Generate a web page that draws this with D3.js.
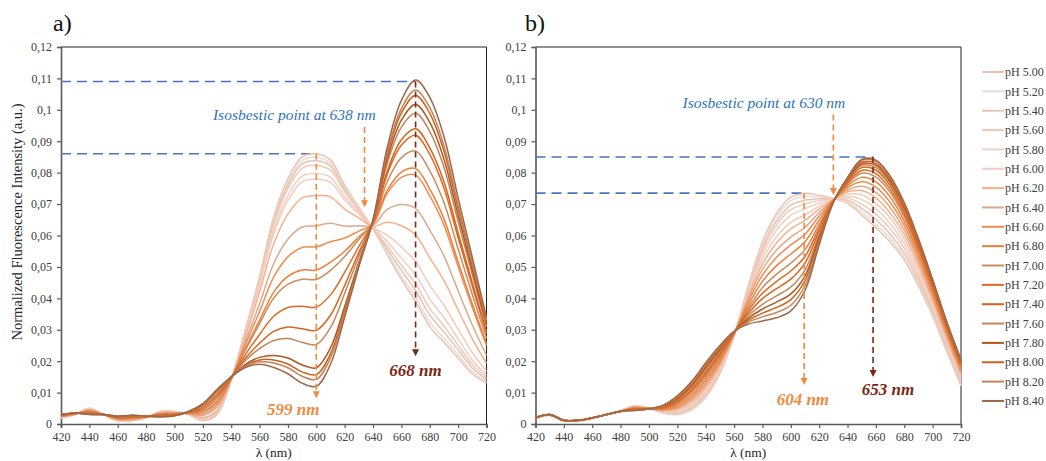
<!DOCTYPE html>
<html><head><meta charset="utf-8">
<script src="https://cdn.jsdelivr.net/npm/d3@7/dist/d3.min.js"></script>
<style>body{margin:0;background:#fff}svg{display:block}</style>
</head><body>
<svg id="c" width="1046" height="461"></svg>
<script>
// ---------- DATA ----------
const wavelengths = [420,430,440,450,460,470,480,490,500,510,520,530,540,550,560,570,580,590,600,610,620,630,640,650,660,670,680,690,700,710,720];
const phLabels = ["pH 5.00","pH 5.20","pH 5.40","pH 5.60","pH 5.80","pH 6.00","pH 6.20","pH 6.40","pH 6.60","pH 6.80","pH 7.00","pH 7.20","pH 7.40","pH 7.60","pH 7.80","pH 8.00","pH 8.20","pH 8.40"];
const seriesColors = ["#eec3ad","#e6dcd8","#e5c4b6","#f6c7b3","#e8d1c8","#f6cbb8","#f7b08a","#dca98b","#f08c52","#ee7d36","#c98c64","#e2691f","#d9621c","#c4855a","#b0561f","#c9621f","#c4845a","#9e6648"];
const yTickValues = [0,0.01,0.02,0.03,0.04,0.05,0.06,0.07,0.08,0.09,0.10,0.11,0.12];
const yTickLabels = ["0","0,01","0,02","0,03","0,04","0,05","0,06","0,07","0,08","0,09","0,1","0,11","0,12"];
const xTickValues = [420,440,460,480,500,520,540,560,580,600,620,640,660,680,700,720];

const panelASeries = [
[.002,.003,.005,.003,.001,.001,.002,.004,.004,.003,.001,.003,.014,.030,.047,.066,.078,.085,.086,.084,.076,.069,.062,.054,.046,.039,.031,.026,.021,.016,.013],
[.002,.003,.005,.003,.001,.001,.002,.004,.004,.003,.0011,.0031,.014,.0298,.0466,.0653,.0771,.0839,.0849,.0830,.0754,.0687,.0621,.0547,.0471,.0404,.0325,.0273,.0220,.0167,.0134],
[.002,.003,.0049,.003,.001,.0011,.002,.0039,.004,.003,.0012,.0032,.014,.0296,.0462,.0646,.0761,.0828,.0838,.0821,.0747,.0684,.0622,.0557,.0489,.0425,.0347,.0293,.0236,.0179,.0141],
[.0021,.003,.0049,.003,.0011,.0011,.002,.0039,.0039,.0031,.0013,.0034,.0141,.0294,.0456,.0636,.0749,.0814,.0823,.0808,.0739,.0681,.0622,.0567,.0506,.0446,.0368,.0312,.0251,.0190,.0147],
[.0021,.003,.0048,.003,.0011,.0012,.002,.0039,.0039,.0031,.0015,.0037,.0141,.0290,.0446,.0619,.0727,.0789,.0797,.0785,.0724,.0674,.0624,.0581,.0528,.0475,.0398,.0339,.0271,.0204,.0155],
[.0021,.0031,.0048,.003,.0012,.0012,.0021,.0038,.0038,.0031,.0016,.0039,.0141,.0287,.0439,.0607,.0712,.0771,.0779,.0769,.0714,.0669,.0625,.0601,.0563,.0517,.0441,.0378,.0302,.0227,.0168],
[.0022,.0031,.0046,.003,.0013,.0013,.0021,.0037,.0037,.0032,.0020,.0044,.0142,.0278,.0420,.0574,.0668,.0720,.0727,.0723,.0684,.0656,.0629,.0642,.0631,.0602,.0529,.0457,.0363,.0271,.0193],
[.0023,.0032,.0044,.003,.0015,.0016,.0022,.0035,.0036,.0033,.0027,.0055,.0143,.0263,.0383,.0511,.0588,.0627,.0631,.0639,.0630,.0631,.0633,.0683,.0699,.0686,.0617,.0535,.0424,.0315,.0218],
[.0024,.0032,.0042,.003,.0016,.0017,.0022,.0033,.0034,.0034,.0032,.0062,.0144,.0252,.0358,.0468,.0532,.0562,.0564,.0580,.0592,.0614,.0637,.0734,.0785,.0792,.0726,.0633,.0501,.0371,.0250],
[.0025,.0033,.004,.003,.0018,.0019,.0023,.0032,.0033,.0035,.0038,.0070,.0145,.0240,.0330,.0420,.0470,.0490,.0490,.0515,.0550,.0595,.0638,.0744,.0802,.0813,.0748,.0653,.0516,.0382,.0256],
[.0025,.0033,.0039,.003,.0018,.002,.0023,.0031,.0032,.0035,.0040,.0073,.0145,.0235,.0319,.0401,.0445,.0461,.0460,.0489,.0533,.0587,.0640,.0771,.0848,.0869,.0806,.0705,.0557,.0412,.0273],
[.0027,.0033,.0037,.003,.002,.0022,.0023,.0029,.0031,.0037,.0046,.0083,.0147,.0221,.0285,.0343,.0371,.0375,.0372,.0411,.0483,.0565,.0643,.0795,.0888,.0919,.0858,.0751,.0593,.0438,.0288],
[.0028,.0034,.0035,.003,.0021,.0024,.0024,.0027,.0029,.0038,.0052,.0091,.0148,.0209,.0257,.0295,.0309,.0303,.0298,.0346,.0441,.0546,.0643,.0805,.0905,.0940,.0879,.0771,.0608,.0449,.0294],
[.0028,.0034,.0034,.003,.0022,.0025,.0024,.0026,.0029,.0038,.0055,.0096,.0148,.0202,.0240,.0266,.0272,.0260,.0253,.0307,.0416,.0534,.0646,.0829,.0945,.0989,.0931,.0817,.0644,.0475,.0309],
[.0029,.0035,.0032,.003,.0024,.0027,.0025,.0024,.0027,.0039,.0061,.0104,.0149,.0190,.0212,.0218,.0210,.0188,.0179,.0242,.0374,.0515,.0647,.0843,.0967,.1017,.0960,.0843,.0664,.0489,.0317],
[.003,.0035,.0031,.003,.0024,.0027,.0025,.0024,.0027,.0040,.0062,.0106,.015,.0186,.0204,.0204,.0191,.0166,.0157,.0223,.0361,.0510,.0648,.0856,.0990,.1046,.0989,.0869,.0684,.0504,.0325],
[.003,.0035,.0031,.003,.0025,.0027,.0025,.0023,.0026,.004,.0063,.0108,.015,.0184,.0198,.0194,.0179,.0152,.0142,.0210,.0353,.0506,.0649,.0865,.1004,.1063,.1007,.0886,.0697,.0513,.0331],
[.003,.0035,.003,.003,.0025,.0028,.0025,.0023,.0026,.004,.0065,.011,.015,.018,.019,.018,.016,.013,.012,.019,.034,.050,.065,.088,.103,.1095,.104,.0915,.072,.053,.034]
];

const panelBSeries = [
[.0018,.0028,.0010,.0010,.0018,.0030,.0042,.0058,.0050,.0035,.0030,.0045,.0085,.0160,.0280,.0440,.0580,.0670,.0722,.0734,.0728,.0718,.0702,.0665,.0625,.0580,.0522,.0440,.0342,.0230,.0120],
[.0018,.0028,.0010,.0010,.0018,.0030,.0042,.0058,.0050,.0036,.0032,.0048,.0088,.0163,.0280,.0436,.0572,.0660,.0711,.0725,.0723,.0718,.0706,.0674,.0636,.0591,.0531,.0448,.0348,.0235,.0124],
[.0018,.0028,.0010,.0010,.0018,.0030,.0042,.0057,.0050,.0037,.0034,.0051,.0093,.0166,.0281,.0431,.0562,.0647,.0697,.0712,.0717,.0717,.0712,.0686,.0651,.0605,.0544,.0458,.0356,.0241,.0130],
[.0018,.0028,.0010,.0010,.0018,.0030,.0042,.0056,.0050,.0038,.0037,.0055,.0097,.0170,.0282,.0427,.0552,.0634,.0682,.0700,.0711,.0717,.0719,.0700,.0668,.0622,.0559,.0470,.0366,.0249,.0137],
[.0018,.0028,.0010,.0010,.0018,.0030,.0042,.0056,.0050,.0039,.0040,.0059,.0103,.0174,.0282,.0420,.0540,.0617,.0664,.0685,.0703,.0716,.0725,.0715,.0685,.0639,.0573,.0482,.0375,.0257,.0144],
[.0018,.0028,.0010,.0010,.0018,.0030,.0042,.0055,.0050,.0041,.0043,.0065,.0109,.0180,.0283,.0413,.0525,.0597,.0642,.0666,.0693,.0715,.0732,.0729,.0702,.0656,.0588,.0494,.0385,.0264,.0151],
[.0019,.0029,.0011,.0011,.0019,.0030,.0041,.0054,.0049,.0042,.0047,.0070,.0116,.0185,.0284,.0406,.0509,.0577,.0621,.0648,.0684,.0714,.0739,.0743,.0720,.0672,.0603,.0506,.0394,.0272,.0157],
[.0019,.0029,.0011,.0011,.0019,.0030,.0041,.0053,.0049,.0044,.0051,.0077,.0124,.0192,.0285,.0397,.0492,.0554,.0595,.0626,.0673,.0713,.0745,.0757,.0737,.0689,.0617,.0518,.0403,.0279,.0164],
[.0019,.0029,.0011,.0011,.0019,.0030,.0041,.0052,.0049,.0046,.0055,.0083,.0131,.0198,.0286,.0389,.0474,.0531,.0570,.0604,.0662,.0713,.0752,.0771,.0754,.0706,.0632,.0530,.0413,.0287,.0171],
[.0019,.0029,.0011,.0011,.0019,.0030,.0041,.0051,.0049,.0048,.0060,.0090,.0140,.0205,.0288,.0379,.0454,.0504,.0541,.0580,.0649,.0712,.0758,.0785,.0771,.0723,.0646,.0542,.0422,.0295,.0178],
[.0019,.0029,.0011,.0011,.0019,.0030,.0041,.0049,.0049,.0050,.0065,.0097,.0149,.0212,.0289,.0369,.0434,.0477,.0512,.0555,.0636,.0710,.0764,.0798,.0786,.0738,.0659,.0553,.0431,.0301,.0184],
[.0019,.0029,.0011,.0011,.0019,.0030,.0041,.0048,.0049,.0051,.0069,.0104,.0157,.0219,.0290,.0361,.0416,.0454,.0487,.0533,.0625,.0710,.0768,.0807,.0797,.0748,.0668,.0560,.0436,.0306,.0188],
[.0019,.0029,.0011,.0011,.0019,.0030,.0041,.0047,.0049,.0053,.0073,.0110,.0164,.0225,.0291,.0352,.0399,.0431,.0461,.0512,.0614,.0709,.0773,.0816,.0808,.0759,.0678,.0568,.0442,.0311,.0192],
[.0020,.0030,.0012,.0012,.0020,.0030,.0040,.0046,.0048,.0055,.0077,.0116,.0172,.0231,.0292,.0344,.0381,.0408,.0436,.0490,.0603,.0708,.0776,.0823,.0816,.0767,.0685,.0574,.0447,.0315,.0196],
[.0020,.0030,.0012,.0012,.0020,.0030,.0040,.0045,.0048,.0056,.0081,.0122,.0179,.0237,.0293,.0336,.0366,.0388,.0414,.0471,.0594,.0707,.0778,.0828,.0823,.0773,.0690,.0578,.0451,.0317,.0198],
[.0020,.0030,.0012,.0012,.0020,.0030,.0040,.0045,.0048,.0058,.0084,.0126,.0184,.0241,.0294,.0330,.0353,.0371,.0396,.0456,.0586,.0706,.0781,.0833,.0829,.0780,.0696,.0583,.0454,.0320,.0201],
[.0020,.0030,.0012,.0012,.0020,.0030,.0040,.0044,.0048,.0059,.0087,.0131,.0190,.0246,.0294,.0324,.0341,.0355,.0378,.0440,.0578,.0706,.0783,.0839,.0836,.0786,.0701,.0587,.0458,.0323,.0203],
[.0020,.0030,.0012,.0012,.0020,.0030,.0040,.0043,.0048,.0060,.0090,.0135,.0195,.0250,.0295,.0318,.0328,.0338,.0360,.0425,.0570,.0705,.0785,.0842,.0840,.0790,.0705,.0590,.0460,.0325,.0205]
];

// annotation values (wavelength, intensity)
const panelAPeaks = [{wl:670, v:0.109, to:0.0216, label:"668 nm", kind:"dark"}, {wl:600, v:0.086, to:0.0082, label:"599 nm", kind:"orange"}];
const panelBPeaks = [{wl:658, v:0.085, to:0.015, label:"653 nm", kind:"dark"}, {wl:609.4, v:0.0735, to:0.0124, label:"604 nm", kind:"orange"}];
const panelAIso = {wl:634, from:0.0945, to:0.069, text:"Isosbestic point at 638 nm", textWl:584.5, textV:0.0968};
const panelBIso = {wl:630, from:0.0985, to:0.0729, text:"Isosbestic point at 630 nm", textWl:581, textV:0.1005};
const panelALabelPos = [{wl:670, v:0.0153}, {wl:583.8, v:0.0029}];
const panelBLabelPos = [{wl:668.5, v:0.0092}, {wl:608.5, v:0.006}];

// ---------- DRAW ----------
const svg = d3.select("#c");
const FONT = "'Liberation Serif','DejaVu Serif',serif";
const BLUE = "#4a74c2", ORANGE = "#f08a3c", DARK = "#7b2815", ISO = "#2e75b6";

function arrowHead(g, xp, yp, color) {
  g.append("path").attr("d", `M${xp-3.5},${yp-7}L${xp+3.5},${yp-7}L${xp},${yp}Z`).attr("fill", color);
}

function drawPanel(x0, x1, series, peaks, labelPos, iso, letter, letterX) {
  const x = d3.scaleLinear().domain([420,720]).range([x0, x1]);
  const y = d3.scaleLinear().domain([0,0.12]).range([424,47]);
  const g = svg.append("g");

  g.append("line").attr("x1", x0).attr("x2", x1).attr("y1", y(0.12)).attr("y2", y(0.12)).attr("stroke", "#222").attr("stroke-width", 1);
  g.append("line").attr("x1", x1).attr("x2", x1).attr("y1", y(0.12)).attr("y2", y(0)).attr("stroke", "#222").attr("stroke-width", 1);

  const ya = g.append("g").attr("transform", `translate(${x0},0)`)
    .call(d3.axisLeft(y).tickValues(yTickValues).tickFormat((d,i) => yTickLabels[i]).tickSize(4).tickPadding(5));
  const xa = g.append("g").attr("transform", `translate(0,${y(0)})`)
    .call(d3.axisBottom(x).tickValues(xTickValues).tickFormat(d3.format("d")).tickSize(4).tickPadding(4));
  [ya, xa].forEach(a => {
    a.select(".domain").attr("stroke", "#595959").attr("stroke-width", 1.6);
    a.selectAll(".tick line").attr("stroke", "#595959").attr("stroke-width", 1.2);
    a.selectAll(".tick text").attr("font-family", FONT).attr("font-size", 12).attr("fill", "#404040");
  });

  peaks.forEach(p => {
    g.append("line").attr("x1", x0).attr("x2", x(p.wl)).attr("y1", y(p.v)).attr("y2", y(p.v))
      .attr("stroke", BLUE).attr("stroke-width", 1.6).attr("stroke-dasharray", "10,6");
  });

  const line = d3.line().x((d,i) => x(wavelengths[i])).y(d => y(d)).curve(d3.curveCatmullRom.alpha(0.5));
  series.forEach((s, i) => {
    g.append("path").attr("d", line(s)).attr("fill", "none").attr("stroke", seriesColors[i]).attr("stroke-width", 1.5);
  });

  peaks.forEach((p, k) => {
    const c = p.kind === "dark" ? DARK : ORANGE;
    g.append("line").attr("x1", x(p.wl)).attr("x2", x(p.wl)).attr("y1", y(p.v)).attr("y2", y(p.to) - 6)
      .attr("stroke", c).attr("stroke-width", 1.6).attr("stroke-dasharray", "6,4");
    arrowHead(g, x(p.wl), y(p.to), c);
    g.append("text").attr("x", x(labelPos[k].wl)).attr("y", y(labelPos[k].v)).attr("text-anchor", "middle")
      .attr("font-family", FONT).attr("font-size", 17).attr("font-weight", "bold").attr("font-style", "italic")
      .attr("fill", c).text(p.label);
  });

  g.append("line").attr("x1", x(iso.wl)).attr("x2", x(iso.wl)).attr("y1", y(iso.from)).attr("y2", y(iso.to) - 6)
    .attr("stroke", ORANGE).attr("stroke-width", 1.6).attr("stroke-dasharray", "6,4");
  arrowHead(g, x(iso.wl), y(iso.to), ORANGE);
  g.append("text").attr("x", x(iso.textWl)).attr("y", y(iso.textV)).attr("text-anchor", "middle")
    .attr("font-family", FONT).attr("font-size", 15.5).attr("font-style", "italic").attr("fill", ISO).text(iso.text);

  g.append("text").attr("x", (x0 + x1) / 2).attr("y", 457).attr("text-anchor", "middle")
    .attr("font-family", FONT).attr("font-size", 13.5).attr("fill", "#262626").text("λ (nm)");

  svg.append("text").attr("x", letterX).attr("y", 31).attr("font-family", FONT).attr("font-size", 24).attr("fill", "#111").text(letter);
}

drawPanel(61, 486.5, panelASeries, panelAPeaks, panelALabelPos, panelAIso, "a)", 53);
drawPanel(535.5, 961, panelBSeries, panelBPeaks, panelBLabelPos, panelBIso, "b)", 525);

svg.append("text").attr("transform", "translate(22,222) rotate(-90)").attr("text-anchor", "middle")
  .attr("font-family", FONT).attr("font-size", 14.5).attr("fill", "#262626").text("Normalized Fluorescence Intensity (a.u.)");

const leg = svg.append("g");
phLabels.forEach((t, i) => {
  const yy = 72 + i * 19.35;
  leg.append("line").attr("x1", 982).attr("x2", 1004).attr("y1", yy).attr("y2", yy).attr("stroke", seriesColors[i]).attr("stroke-width", 2);
  leg.append("text").attr("x", 1005).attr("y", yy).attr("dy", "0.35em").attr("font-family", FONT).attr("font-size", 12)
    .attr("fill", "#404040").text(t);
});
</script>
</body></html>
